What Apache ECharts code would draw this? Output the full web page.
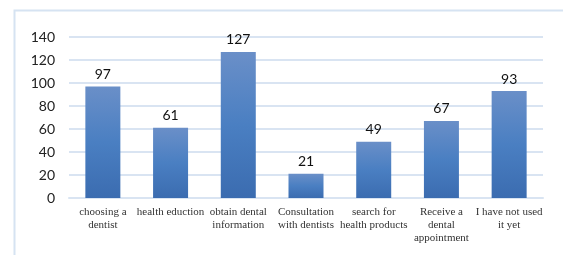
<!DOCTYPE html>
<html>
<head>
<meta charset="utf-8">
<script src="https://cdn.jsdelivr.net/npm/echarts@6/dist/echarts.min.js"></script>
<style>
  html, body { margin: 0; padding: 0; background: #fff; }
  #chart { width: 563px; height: 255px; }
</style>
</head>
<body>
<div id="chart"></div>
<script>
// data
var categories = [
  'choosing a\ndentist',
  'health eduction',
  'obtain dental\ninformation',
  'Consultation\nwith dentists',
  'search for\nhealth products',
  'Receive a\ndental\nappointment',
  'I have not used\nit yet'
]
var values = [97, 61, 127, 21, 49, 67, 93]
var yTicks = [0, 20, 40, 60, 80, 100, 120, 140]

var chart = echarts.init(document.getElementById('chart'))

var option = {
  animation: false,
  graphic: [
    {
      // outer frame
      type: 'rect',
      left: 12,
      top: 8,
      shape: { width: 600, height: 300 },
      style: { fill: 'none', stroke: '#d6e3f2', lineWidth: 2 }
    }
  ],
  grid: {
    top: 37,
    left: 69,
    right: 20,
    bottom: 57
  },
  xAxis: {
    type: 'category',
    data: categories,
    axisLine: { show: true, lineStyle: { color: '#d9e4f2', width: 2 } },
    axisTick: { show: false },
    axisLabel: {
      interval: 0,
      margin: 8,
      color: '#333',
      fontFamily: 'Liberation Serif',
      fontSize: 11,
      lineHeight: 13
    }
  },
  yAxis: {
    type: 'value',
    min: yTicks[0],
    max: yTicks[yTicks.length - 1],
    interval: 20,
    axisLine: { show: false },
    axisTick: { show: false },
    axisLabel: {
      margin: 14,
      color: '#222',
      fontFamily: 'Lato',
      fontSize: 14
    },
    splitLine: { lineStyle: { color: '#d9e4f2', width: 2 } }
  },
  series: [
    {
      type: 'bar',
      data: values,
      barWidth: 35,
      itemStyle: {
        color: new echarts.graphic.LinearGradient(0, 0, 0, 1, [
          { offset: 0, color: '#6a8fc8' },
          { offset: 0.5, color: '#4a7fc2' },
          { offset: 1, color: '#3b6cb0' }
        ])
      },
      label: {
        show: true,
        position: 'top',
        distance: 5,
        color: '#111',
        fontFamily: 'Lato',
        fontSize: 14
      }
    }
  ]
}

chart.setOption(option)
window.addEventListener('resize', function () {
  chart.resize()
})
</script>
</body>
</html>
